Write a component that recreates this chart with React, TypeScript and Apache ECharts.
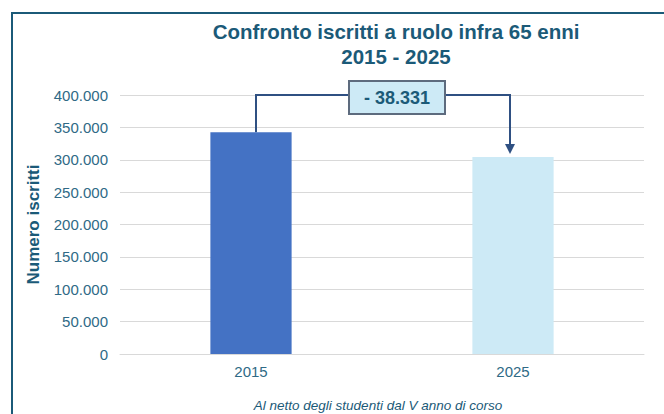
import React, { useEffect, useRef } from "react";
import * as echarts from "echarts";

const categories = ["2015", "2025"];
const values = [342600, 304269];
const barColors = ["#4472c4", "#cdeaf6"];
const yTicks = { min: 0, max: 400000, interval: 50000 };
const titleLines = ["Confronto iscritti a ruolo infra 65 enni", "2015 - 2025"];
const yAxisName = "Numero iscritti";
const footnote = "Al netto degli studenti dal V anno di corso";

const TEXT = "#1b5a78";
const LABEL = "#2f6a86";

function fmt(n: number): string {
  return Math.round(n).toString().replace(/\B(?=(\d{3})+(?!\d))/g, ".");
}

export default function App() {
  const ref = useRef<HTMLDivElement>(null);
  useEffect(() => {
    document.body.style.margin = "0";
    if (!ref.current) return;
    const chart = echarts.init(ref.current, null, { renderer: "svg" });
    chart.setOption({
      animation: false,
      grid: { left: 120, right: 20, top: 95, bottom: 60, containLabel: false },
      xAxis: {
        type: "category",
        data: categories,
        axisLine: { show: true, lineStyle: { color: "#d9d9d9", width: 1 } },
        axisTick: { show: false },
        axisLabel: { color: LABEL, fontSize: 15, margin: 10, fontFamily: "Liberation Sans" },
      },
      yAxis: {
        type: "value",
        min: yTicks.min,
        max: yTicks.max,
        interval: yTicks.interval,
        name: yAxisName,
        nameLocation: "middle",
        nameGap: 78,
        nameTextStyle: { color: TEXT, fontSize: 17, fontWeight: "bold", fontFamily: "Liberation Sans" },
        axisLine: { show: false },
        axisTick: { show: false },
        axisLabel: { color: LABEL, fontSize: 15, margin: 12, fontFamily: "Liberation Sans", formatter: (v: number) => fmt(v) },
        splitLine: { lineStyle: { color: "#d9d9d9", width: 1 } },
      },
      series: [
        {
          type: "bar",
          barWidth: "31%",
          data: values.map((v, i) => ({ value: v, itemStyle: { color: barColors[i] } })),
        },
      ],
    });

    const p1 = chart.convertToPixel({ gridIndex: 0 }, [categories[0], values[0]]) as number[];
    const p2 = chart.convertToPixel({ gridIndex: 0 }, [categories[1], values[1]]) as number[];
    const pTop = chart.convertToPixel({ gridIndex: 0 }, [categories[0], yTicks.max]) as number[];
    const xl = p1[0] + 5;
    const xr = p2[0] - 3;
    const yh = pTop[1];
    const yEnd = p2[1] - 3;
    const boxW = 96;
    const boxH = 33;
    const bx = (xl + xr) / 2 + 14 - boxW / 2;
    const by = yh - 14;
    const diff = values[1] - values[0];
    const diffText = (diff < 0 ? "- " : "+ ") + fmt(Math.abs(diff));

    chart.setOption({
      graphic: [
        {
          type: "rect",
          shape: { x: 12, y: 13, width: 700, height: 450 },
          style: { fill: "none", stroke: "#1b5a78", lineWidth: 2 },
          silent: true,
        },
        {
          type: "text",
          x: 396,
          y: 31,
          style: { text: titleLines[0], fill: TEXT, font: "bold 20.5px 'Liberation Sans'", textAlign: "center", textVerticalAlign: "middle" },
        },
        {
          type: "text",
          x: 396,
          y: 56,
          style: { text: titleLines[1], fill: TEXT, font: "bold 20.5px 'Liberation Sans'", textAlign: "center", textVerticalAlign: "middle" },
        },
        {
          type: "polyline",
          shape: { points: [[xl, p1[1]], [xl, yh], [xr, yh], [xr, yEnd - 8]] },
          style: { stroke: "#2f5082", lineWidth: 2, fill: "none" },
        },
        {
          type: "polygon",
          shape: { points: [[xr - 5, yEnd - 10], [xr + 5, yEnd - 10], [xr, yEnd]] },
          style: { fill: "#2f5082" },
        },
        {
          type: "rect",
          shape: { x: bx, y: by, width: boxW, height: boxH },
          style: { fill: "#cdeaf6", stroke: "#5d6b7e", lineWidth: 2 },
        },
        {
          type: "text",
          x: bx + boxW / 2,
          y: by + boxH / 2,
          style: { text: diffText, fill: TEXT, font: "bold 18px 'Liberation Sans'", textAlign: "center", textVerticalAlign: "middle" },
        },
        {
          type: "text",
          x: 378,
          y: 405,
          style: { text: footnote, fill: TEXT, font: "italic 13.5px 'Liberation Sans'", textAlign: "center", textVerticalAlign: "middle" },
        },
      ],
    });
    return () => chart.dispose();
  }, []);
  return <div ref={ref} style={{ width: 664, height: 414 }} />;
}
